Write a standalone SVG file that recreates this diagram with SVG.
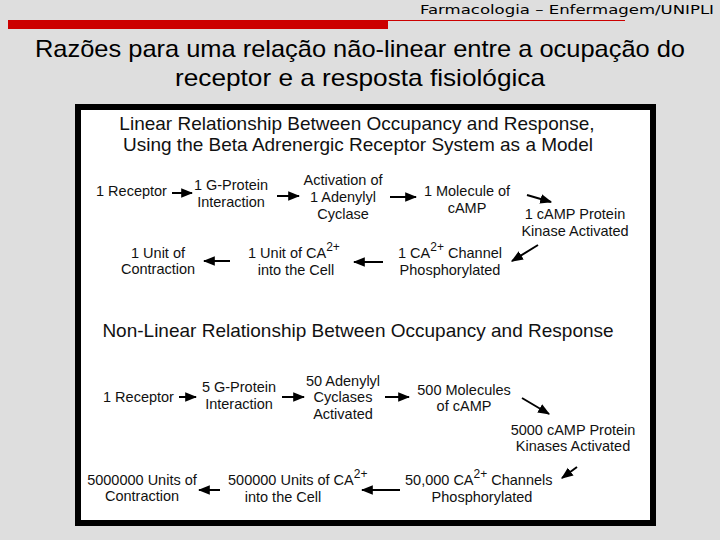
<svg xmlns="http://www.w3.org/2000/svg" width="720" height="540" viewBox="0 0 720 540">
  <defs>
    <marker id="ah" markerUnits="userSpaceOnUse" markerWidth="12" markerHeight="12" viewBox="0 0 10 10" refX="9" refY="5" orient="auto">
      <path d="M0,1 L10,5 L0,9 Z" fill="#000"/>
    </marker>
    <style>
      .t { font-family: "Liberation Sans", Arial, sans-serif; font-size: 14.5px; fill: #111; }
      .c { text-anchor: middle; }
      .h { font-family: "Liberation Sans", Arial, sans-serif; font-size: 19px; fill: #111; text-anchor: middle; }
      .sup { font-size: 12px; }
      .ar { stroke: #000; stroke-width: 2; fill: none; marker-end: url(#ah); }
    </style>
  </defs>
  <rect x="0" y="0" width="720" height="540" fill="#dedede"/>
  <g id="header">
    <text x="420" y="14" font-family="DejaVu Sans, sans-serif" font-size="13" fill="#000" textLength="294" lengthAdjust="spacingAndGlyphs">Farmacologia – Enfermagem/UNIPLI</text>
    <rect x="8" y="20" width="380" height="9" fill="#cc0000"/>
    <line x1="388" y1="20.5" x2="625" y2="20.5" stroke="#cc0000" stroke-width="1"/>
  </g>
  <g id="title" font-family="Liberation Sans, Arial, sans-serif" font-size="24" fill="#000" text-anchor="middle">
    <text x="360" y="57" textLength="650" lengthAdjust="spacingAndGlyphs">Razões para uma relação não-linear entre a ocupação do</text>
    <text x="360" y="86" textLength="370" lengthAdjust="spacingAndGlyphs">receptor e a resposta fisiológica</text>
  </g>
  <rect id="frame" x="78" y="107" width="575" height="416" fill="#fff" stroke="#000" stroke-width="6"/>

  <g id="heading1">
    <text class="h" x="357" y="130">Linear Relationship Between Occupancy and Response,</text>
    <text class="h" x="358" y="151">Using the Beta Adrenergic Receptor System as a Model</text>
  </g>
  <g id="l1"><text class="t" x="96" y="196">1 Receptor</text></g>
  <g id="l2"><text class="t c" x="231" y="190">1 G-Protein</text><text class="t c" x="231" y="207">Interaction</text></g>
  <g id="l3"><text class="t c" x="343" y="185">Activation of</text><text class="t c" x="343" y="202">1 Adenylyl</text><text class="t c" x="343" y="219">Cyclase</text></g>
  <g id="l4"><text class="t c" x="467" y="196">1 Molecule of</text><text class="t c" x="467" y="213">cAMP</text></g>
  <g id="l5"><text class="t c" x="575" y="219">1 cAMP Protein</text><text class="t c" x="575" y="236">Kinase Activated</text></g>
  <g id="l6"><text class="t c" x="450" y="258">1 CA<tspan class="sup" dy="-7">2+</tspan><tspan dy="7"> Channel</tspan></text><text class="t c" x="450" y="275">Phosphorylated</text></g>
  <g id="l7"><text class="t" x="248" y="258">1 Unit of CA<tspan class="sup" dy="-7">2+</tspan></text><text class="t c" x="296" y="275">into the Cell</text></g>
  <g id="l8"><text class="t c" x="158" y="258">1 Unit of</text><text class="t c" x="158" y="274">Contraction</text></g>

  <g id="heading2">
    <text class="h" x="358" y="337">Non-Linear Relationship Between Occupancy and Response</text>
  </g>
  <g id="n1"><text class="t" x="103" y="402">1 Receptor</text></g>
  <g id="n2"><text class="t c" x="239" y="392">5 G-Protein</text><text class="t c" x="239" y="409">Interaction</text></g>
  <g id="n3"><text class="t c" x="343" y="386">50 Adenylyl</text><text class="t c" x="343" y="402">Cyclases</text><text class="t c" x="343" y="419">Activated</text></g>
  <g id="n4"><text class="t c" x="464" y="395">500 Molecules</text><text class="t c" x="464" y="411">of cAMP</text></g>
  <g id="n5"><text class="t c" x="573" y="435">5000 cAMP Protein</text><text class="t c" x="573" y="451">Kinases Activated</text></g>
  <g id="n6"><text class="t" x="405" y="485">50,000 CA<tspan class="sup" dy="-7">2+</tspan><tspan dy="7">  Channels</tspan></text><text class="t c" x="482" y="502">Phosphorylated</text></g>
  <g id="n7"><text class="t" x="228" y="485">500000 Units of CA<tspan class="sup" dy="-7">2+</tspan></text><text class="t c" x="283" y="502">into the Cell</text></g>
  <g id="n8"><text class="t c" x="142" y="485">5000000 Units of</text><text class="t c" x="142" y="501">Contraction</text></g>

  <g id="connectors">
    <line class="ar" x1="172" y1="193" x2="192" y2="193"/>
    <line class="ar" x1="277" y1="196" x2="299" y2="196"/>
    <line class="ar" x1="390" y1="197" x2="416" y2="197"/>
    <line class="ar" x1="527" y1="195" x2="551" y2="202"/>
    <line class="ar" x1="538" y1="245" x2="512" y2="261"/>
    <line class="ar" x1="383" y1="262" x2="354" y2="262"/>
    <line class="ar" x1="230" y1="261" x2="204" y2="261"/>

    <line class="ar" x1="179" y1="397" x2="196" y2="397"/>
    <line class="ar" x1="282" y1="397" x2="304" y2="397"/>
    <line class="ar" x1="385" y1="397" x2="409" y2="397"/>
    <line class="ar" x1="522" y1="398" x2="549" y2="414"/>
    <line class="ar" x1="577" y1="467" x2="562" y2="478"/>
    <line class="ar" x1="400" y1="490" x2="362" y2="490"/>
    <line class="ar" x1="220" y1="490" x2="199" y2="490"/>
  </g>
</svg>
